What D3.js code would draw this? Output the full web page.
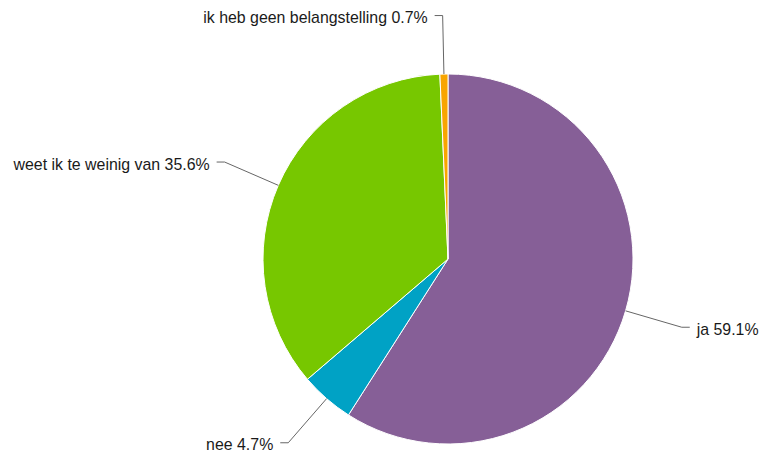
<!DOCTYPE html>
<html><head><meta charset="utf-8">
<script src="https://cdn.jsdelivr.net/npm/d3@7"></script>
<style>body{margin:0;background:#fff;}svg{display:block;}</style>
</head><body>
<svg id="c" width="759" height="453"></svg>
<script>
const categories = ["ja", "nee", "weet ik te weinig van", "ik heb geen belangstelling"];
const values = [59.1, 4.7, 35.6, 0.7];
const colors = ["#865f97", "#00a2c5", "#77c700", "#f8a500"];

const svg = d3.select("#c");
const cx = 448, cy = 259, r = 185, rOut = 243.5;
const g = svg.append("g").attr("transform", `translate(${cx},${cy})`);
const data = categories.map((c, i) => ({name: c, value: values[i], color: colors[i]}));
const pie = d3.pie().value(d => d.value).sort(null);
const arcs = pie(data);
const arc = d3.arc().innerRadius(0).outerRadius(r);

g.selectAll("path.slice").data(arcs).join("path")
  .attr("class", "slice")
  .attr("d", arc)
  .attr("fill", d => d.data.color)
  .attr("stroke", "#fff").attr("stroke-width", 1).attr("stroke-linejoin", "round");

function pt(a, rr) { return [rr * Math.sin(a), -rr * Math.cos(a)]; }

arcs.forEach(d => {
  const a = (d.startAngle + d.endAngle) / 2;
  const p1 = pt(a, r), p2 = pt(a, rOut);
  const right = Math.sin(a) >= 0;
  const p3 = [p2[0] + (right ? 8 : -8), p2[1]];
  g.append("path")
    .attr("d", d3.line()([p1, p2, p3]))
    .attr("fill", "none").attr("stroke", "#666").attr("stroke-width", 1);
  g.append("text")
    .attr("x", p3[0] + (right ? 7 : -7))
    .attr("y", p3[1] + 3.5)
    .attr("text-anchor", right ? "start" : "end")
    .attr("dominant-baseline", "middle")
    .attr("font-family", "'Liberation Sans', Arial, Helvetica, sans-serif")
    .attr("font-size", "15.9px")
    .attr("fill", "#1a1a1a")
    .text(`${d.data.name} ${d.data.value}%`);
});
</script>
</body></html>
